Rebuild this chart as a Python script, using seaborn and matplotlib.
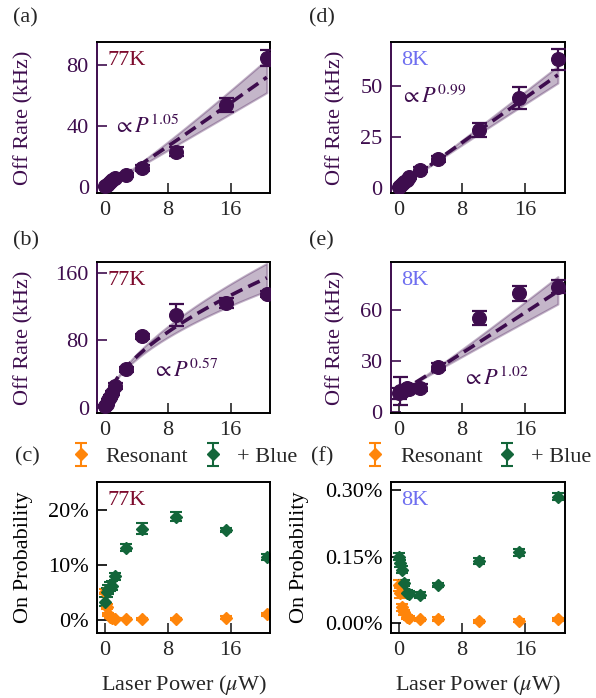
import numpy as np
import matplotlib
matplotlib.use('Agg')
import matplotlib.pyplot as plt
from matplotlib.ticker import PercentFormatter
import seaborn as sns

# laser power (uW)
P77 = [0.02, 0.2, 0.4, 0.6, 0.9, 1.3, 2.7, 4.7, 9.0, 15.4, 20.6]
P8 = [0.02, 0.2, 0.4, 0.7, 1.0, 1.3, 2.7, 5.0, 10.1, 15.2, 20.1]

# off rates (kHz)
rate_a = [0.5, 1.2, 2.0, 3.0, 4.2, 5.8, 7.9, 12.3, 23.2, 53.8, 84.5]
err_a = [0.3, 0.4, 0.5, 0.6, 0.8, 1.0, 1.2, 1.8, 3.0, 4.4, 5.0]
rate_b = [2, 5, 9, 13, 18, 26, 46, 85, 110, 124, 135]
err_b = [1, 1.5, 2, 2, 2.5, 3, 3, 3, 13, 6, 4]
rate_d = [0.3, 1.0, 1.8, 2.8, 3.8, 5.2, 9.0, 14.0, 28.3, 44.0, 63.0]
err_d = [0.3, 0.4, 0.5, 0.6, 0.7, 0.8, 1.2, 1.5, 3.5, 5.5, 5.0]
rate_e = [11.0, 12.5, 12.0, 13.0, 14.0, 13.5, 14.4, 26.7, 55.5, 70.0, 74.0]
err_e = [3, 8, 2, 2, 2, 2, 2, 2, 4, 4.5, 4]

# power law fits: offset, amplitude, exponent, exponent uncertainty
fit_a = [0.0, 3.0, 1.05, 0.05]
fit_b = [0.0, 27.5, 0.57, 0.035]
fit_d = [0.0, 2.84, 0.99, 0.025]
fit_e = [11.5, 2.8, 1.02, 0.045]

# on probability (%)
res_c = [5.1, 2.4, 1.0, 0.5, 0.3, 0.2, 0.1, 0.1, 0.1, 0.4, 1.0]
res_c_err = [0.5, 0.4, 0.3, 0.2, 0.2, 0.2, 0.2, 0.2, 0.2, 0.2, 0.3]
blue_c = [3.3, 5.0, 5.5, 6.0, 6.2, 7.9, 13.1, 16.5, 18.7, 16.3, 11.4]
blue_c_err = [0.8, 0.8, 0.8, 0.8, 0.8, 0.6, 0.6, 1.0, 0.8, 0.4, 0.5]
res_f = [0.085, 0.068, 0.035, 0.024, 0.014, 0.011, 0.008, 0.009, 0.004, 0.005, 0.008]
res_f_err = [0.012, 0.012, 0.008, 0.006, 0.005, 0.004, 0.004, 0.004, 0.003, 0.003, 0.004]
blue_f = [0.150, 0.135, 0.120, 0.090, 0.068, 0.066, 0.063, 0.086, 0.140, 0.160, 0.285]
blue_f_err = [0.008, 0.008, 0.008, 0.007, 0.006, 0.006, 0.006, 0.005, 0.006, 0.008, 0.008]

purple = '#3e0d4e'
orange = '#ff850a'
green = '#13663a'
c77 = '#7d0b2d'
c8 = '#6e6ef0'

sns.set_theme(style='ticks')
plt.rcParams['font.family'] = ['Liberation Serif', 'DejaVu Serif']
plt.rcParams['mathtext.fontset'] = 'stix'
plt.rcParams['font.size'] = 16

fig = plt.figure(figsize=(5.96, 6.98), dpi=100)
rows = [0.7235, 0.4083, 0.0931]
ax_a = fig.add_axes([0.163, rows[0], 0.290, 0.2163])
ax_b = fig.add_axes([0.163, rows[1], 0.290, 0.2163])
ax_c = fig.add_axes([0.163, rows[2], 0.290, 0.2163])
ax_d = fig.add_axes([0.656, rows[0], 0.292, 0.2163])
ax_e = fig.add_axes([0.656, rows[1], 0.292, 0.2163])
ax_f = fig.add_axes([0.656, rows[2], 0.292, 0.2163])


def style(ax, ycol):
    for s in ax.spines.values():
        s.set_linewidth(1.4)
        s.set_color('black')
    ax.spines['left'].set_color(ycol)
    ax.tick_params(direction='in', length=7, width=1.2, pad=6, labelsize=16)
    ax.tick_params(axis='y', colors=ycol)
    ax.set_xlim(-1, 21)
    ax.set_xticks([0, 8, 16])


def rate_panel(ax, P, rate, err, fit, temp, tcol, ylim, yticks, txt, txtpos, ylx):
    c, A, b, db = fit
    xf = np.linspace(min(P), max(P), 300)
    lo = c + A * xf ** (b - db)
    hi = c + A * xf ** (b + db)
    ax.fill_between(xf, np.minimum(lo, hi), np.maximum(lo, hi), facecolor=purple,
                    alpha=0.3, edgecolor=purple, lw=1.5)
    sns.lineplot(x=xf, y=c + A * xf ** b, ax=ax, color=purple, lw=2.6)
    ax.lines[-1].set_linestyle((0, (3.5, 1.8)))
    ax.errorbar(P, rate, yerr=err, fmt='none', ecolor=purple, elinewidth=1.6,
                capsize=5.4, capthick=1.6, zorder=3)
    sns.scatterplot(x=P, y=rate, ax=ax, color=purple, edgecolor=purple, s=100, zorder=4)
    style(ax, purple)
    ax.set_ylim(*ylim)
    ax.set_yticks(yticks)
    ax.set_xlabel('')
    ax.set_ylabel('Off Rate (kHz)', color=purple, fontsize=16)
    ax.yaxis.set_label_coords(ylx, 0.5)
    ax.text(0.058, 0.88, temp, transform=ax.transAxes, color=tcol, va='center', fontsize=16)
    ax.text(txtpos[0], txtpos[1], txt, transform=ax.transAxes, color=purple, va='center', fontsize=16)


rate_panel(ax_a, P77, rate_a, err_a, fit_a, '77K', c77, (-4, 95), [0, 40, 80],
           r'$\propto P^{1.05}$', (0.09, 0.44), -0.37)
rate_panel(ax_b, P77, rate_b, err_b, fit_b, '77K', c77, (-6, 173), [0, 80, 160],
           r'$\propto P^{0.57}$', (0.32, 0.28), -0.37)
rate_panel(ax_d, P8, rate_d, err_d, fit_d, '8K', c8, (-2.5, 71.5), [0, 25, 50],
           r'$\propto P^{0.99}$', (0.05, 0.64), -0.259)
rate_panel(ax_e, P8, rate_e, err_e, fit_e, '8K', c8, (-0.5, 88.5), [0, 30, 60],
           r'$\propto P^{1.02}$', (0.41, 0.23), -0.259)


def prob_panel(ax, P, res, res_err, blue, blue_err, temp, tcol, ylim, yticks, dec, ylx):
    h1 = ax.errorbar(P, res, yerr=res_err, fmt='D', color=orange, ms=6.5, capsize=4.3,
                     elinewidth=1.5, capthick=1.5, label='Resonant')
    h2 = ax.errorbar(P, blue, yerr=blue_err, fmt='D', color=green, ms=6.5, capsize=4.3,
                     elinewidth=1.5, capthick=1.5, label='+ Blue')
    style(ax, 'black')
    ax.set_ylim(*ylim)
    ax.set_yticks(yticks)
    ax.yaxis.set_major_formatter(PercentFormatter(100, decimals=dec))
    ax.set_ylabel('On Probability', fontsize=16, color='black')
    ax.yaxis.set_label_coords(ylx, 0.5)
    ax.set_xlabel(r'Laser Power ($\mu$W)', fontsize=16)
    ax.xaxis.set_label_coords(0.5, -0.265)
    ax.text(0.058, 0.88, temp, transform=ax.transAxes, color=tcol, va='center', fontsize=16)
    ax.legend(handles=[h1, h2], loc='center', bbox_to_anchor=(0.5, 1.166), ncol=2,
              frameon=False, fontsize=16, handlelength=1.0, handletextpad=0.6,
              columnspacing=0.6, borderaxespad=0, borderpad=0.1)


prob_panel(ax_c, P77, res_c, res_c_err, blue_c, blue_c_err, '77K', c77,
           (-2.4, 25), [0, 10, 20], 0, -0.37)
prob_panel(ax_f, P8, res_f, res_f_err, blue_f, blue_f_err, '8K', c8,
           (-0.0226, 0.318), [0, 0.15, 0.30], 2, -0.47)

for lab, x, y in [('(a)', 0.022, 0.975), ('(b)', 0.022, 0.655), ('(c)', 0.025, 0.345),
                  ('(d)', 0.518, 0.975), ('(e)', 0.518, 0.655), ('(f)', 0.522, 0.345)]:
    fig.text(x, y, lab, ha='left', va='center', fontsize=16)

fig.savefig('out.png', dpi=100)
